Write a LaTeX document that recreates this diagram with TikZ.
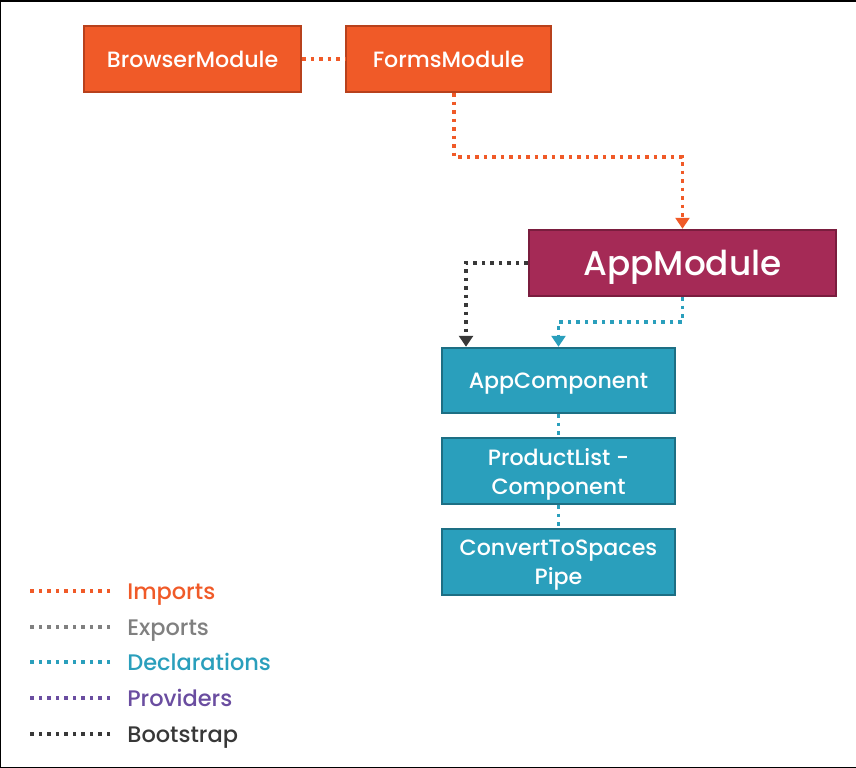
\documentclass[tikz,border=0pt]{standalone}
\usepackage{fontspec}
\setmainfont{Poppins Medium}
\usetikzlibrary{arrows.meta,calc}

\definecolor{impcol}{HTML}{F05A28}
\definecolor{impedge}{HTML}{B8411C}
\definecolor{modcol}{HTML}{A52A56}
\definecolor{modedge}{HTML}{7A1D3E}
\definecolor{declcol}{HTML}{2A9FBC}
\definecolor{decledge}{HTML}{1D6F84}
\definecolor{expcol}{HTML}{808080}
\definecolor{provcol}{HTML}{6A4DA0}
\definecolor{bootcol}{HTML}{383838}

\begin{document}
\begin{tikzpicture}[x=0.02cm, y=-0.02cm,
  box/.style={rectangle, draw, line width=0.5mm, align=center, text=white, inner sep=0pt,
    font=\fontsize{12.6}{16.5}\selectfont, minimum height=1.32cm, text depth=0pt},
  orangebox/.style={box, fill=impcol, draw=impedge},
  tealbox/.style={box, fill=declcol, draw=decledge, minimum width=4.66cm},
  link/.style={line width=0.7mm, dash pattern=on 0.7mm off 1.0mm},
  imports/.style={link, draw=impcol},
  exports/.style={link, draw=expcol},
  decl/.style={link, draw=declcol},
  provs/.style={link, draw=provcol},
  boot/.style={link, draw=bootcol},
  tip/.style={-{Triangle[length=2.2mm, width=2.8mm]}},
  legtext/.style={anchor=base west, inner sep=0pt, font=\fontsize{12.8}{15}\selectfont},
]
\useasboundingbox (0,0) rectangle (856,768);

% frame (open on the right)
\draw[line width=0.4mm] (856,0.5) -- (0.5,0.5) -- (0.5,767.5) -- (856,767.5);

% === MODULES ===
\node[orangebox, minimum width=4.34cm] (bm) at (192.5, 59) {BrowserModule};
\node[orangebox, minimum width=4.10cm] (fm) at (448.5, 59) {FormsModule};
\node[box, fill=modcol, draw=modedge, minimum width=6.14cm,
  font=\fontsize{19.5}{22}\selectfont] (am) at (682.5, 263) {AppModule};

% === DECLARATIONS ===
\node[tealbox, minimum height=1.30cm] (ac) at (558.5, 380.5) {AppComponent};
\node[tealbox] (pl) at (558.5, 471) {ProductList -\\Component};
\node[tealbox] (cp) at (558.5, 562) {ConvertToSpaces\\Pipe};

% === CONNECTORS ===
\draw[imports] (bm) -- (fm);
\draw[imports, tip] ([xshift=1.1mm]fm.south)
  |- ($([xshift=1.1mm]fm.south)!0.47!(am.north)$) -| (am.north);
\draw[boot, tip] (am.west) -| ([xshift=-1.85cm]ac.north);
\draw[decl, tip] (am.south) |- ($(am.south)!0.5!(ac.north)$) -| (ac.north);
\draw[decl] (ac) -- (pl);
\draw[decl] (pl) -- (cp);

% === LEGEND ===
\foreach \i/\yy/\sty/\col/\txt in {1/591/imports/impcol/Imports,
    2/627/exports/expcol/Exports, 3/662/decl/declcol/Declarations,
    4/698/provs/provcol/Providers, 5/734/boot/bootcol/Bootstrap} {
  \node[legtext, text=\col] (leg\i) at (127, \yy+8) {\txt};
  \draw[\sty] ([shift={(-0.34cm,0.16cm)}]leg\i.base west) -- ++(-1.6cm, 0);
}
\end{tikzpicture}
\end{document}
